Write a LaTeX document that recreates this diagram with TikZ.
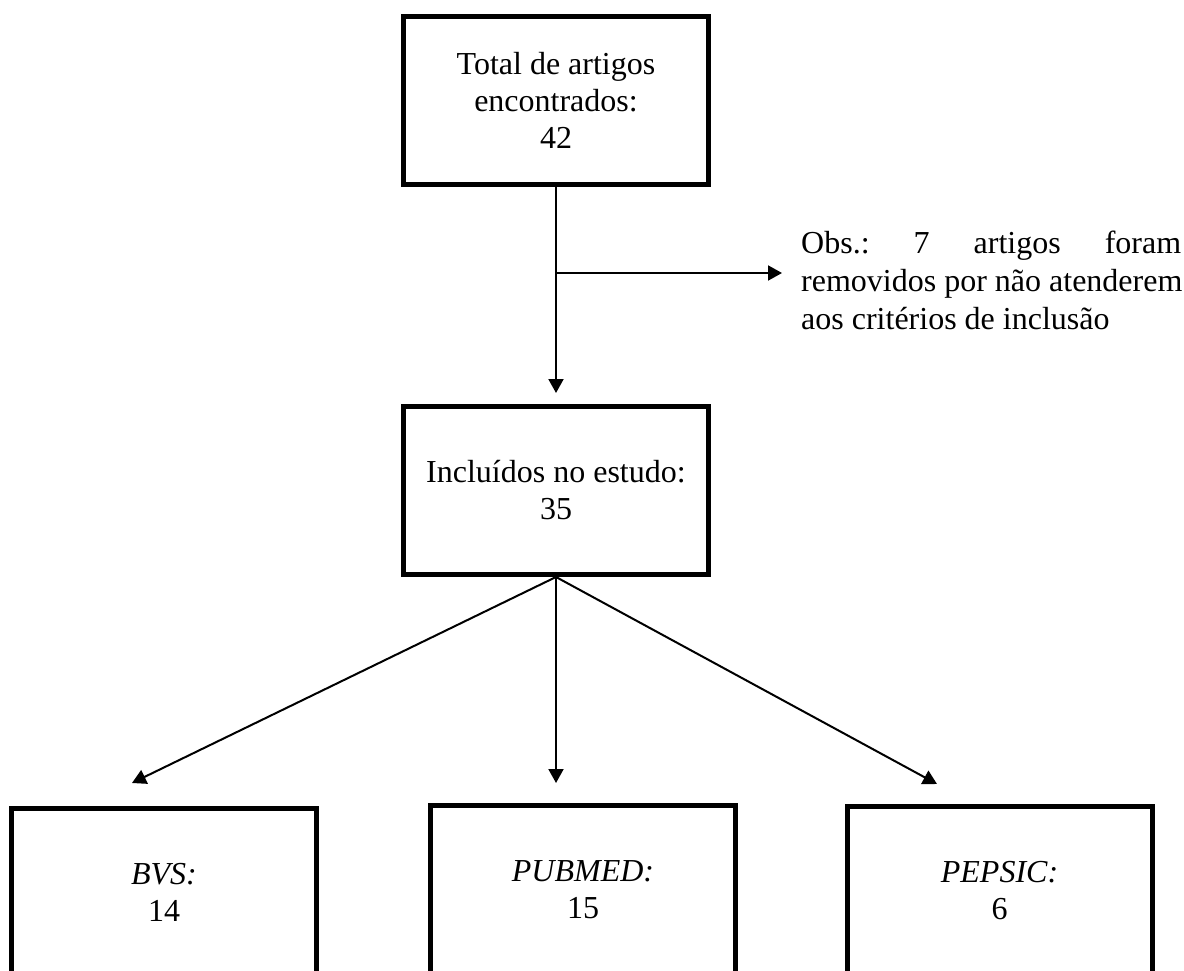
\documentclass[tikz,border=0pt]{standalone}
\usepackage{fontspec}
\setmainfont{Liberation Serif}
\usetikzlibrary{arrows.meta}
\begin{document}
\begin{tikzpicture}[x=1pt,y=-1pt,
  box/.style={draw, line width=5pt, minimum width=305pt, minimum height=168pt,
    inner sep=0pt, align=center, font=\fontsize{32}{37}\selectfont},
  conn/.style={line width=2pt, -{Triangle[length=14pt,width=15pt]}}]
\useasboundingbox (0,0) rectangle (1184,971);
\clip (0,0) rectangle (1184,971);
\fill[white] (0,0) rectangle (1184,971);
\node[box] (total) at (556,100.5) {Total de artigos\\encontrados:\\42};
\node[box] (incl) at (556,490.5) {Incluídos no estudo:\\35};
\node[box] (bvs) at (164,892.5) {\textit{BVS:}\\14};
\node[box] (pub) at (583,889.5) {\textit{PUBMED:}\\15};
\node[box] (pep) at (999.5,890.5) {\textit{PEPSIC:}\\6};
\node[anchor=north west, inner sep=0pt, align=left,
  font=\fontsize{32}{38}\selectfont] (obs) at (801,231)
  {\hbox to 380pt{Obs.:\hfill 7\hfill artigos\hfill foram}\\removidos por não atenderem\\aos critérios de inclusão};
\coordinate (br) at (556,273);
\coordinate (obsend) at (782,273);
\coordinate (t1) at (132,783);
\coordinate (t2) at (556,783);
\coordinate (t3) at (937,784);
\draw[conn, shorten >=11pt] (total.south) -- (incl.north);
\draw[conn] (br) -- (obsend);
\draw[conn] (incl.south) -- (t1);
\draw[conn] (incl.south) -- (t2);
\draw[conn] (incl.south) -- (t3);
\end{tikzpicture}
\end{document}
